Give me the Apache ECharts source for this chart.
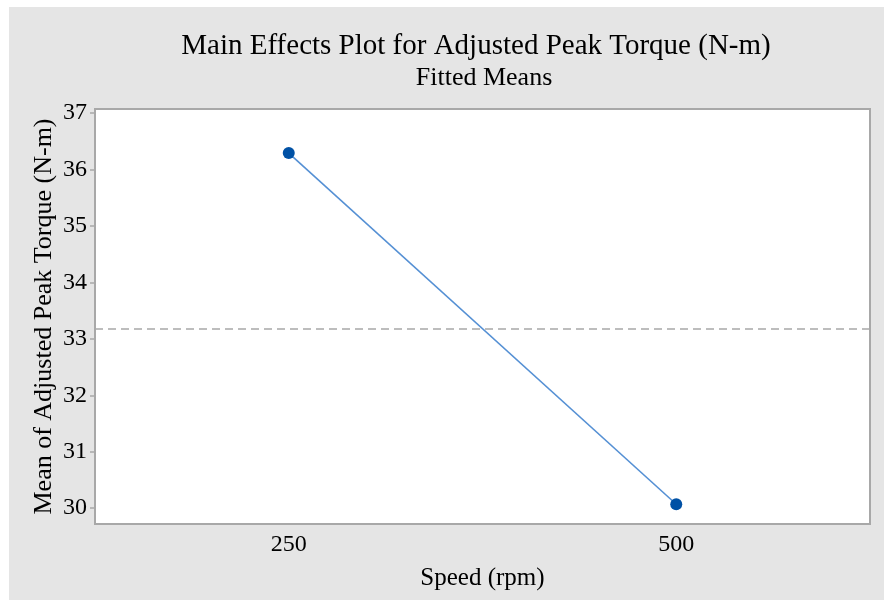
<!DOCTYPE html>
<html>
<head>
<meta charset="utf-8">
<script src="https://cdn.jsdelivr.net/npm/echarts@6/dist/echarts.min.js"></script>
<style>
  html, body { margin: 0; padding: 0; background: #ffffff; }
  #chart { width: 884px; height: 602px; }
</style>
</head>
<body>
<div id="chart"></div>
<script>
// data
var speeds = ["250", "500"];
var fittedMeans = [36.29, 30.07];
var overallMean = 33.18;

var serif = "'Liberation Serif', 'DejaVu Serif', serif";
var chart = echarts.init(document.getElementById("chart"));

var option = {
  backgroundColor: "#ffffff",
  animation: false,
  graphic: [
    {
      type: "rect",
      left: 9,
      top: 7,
      z: -10,
      shape: { width: 875, height: 593 },
      style: { fill: "#e5e5e5" }
    }
  ],
  title: [
    {
      text: "Main Effects Plot for Adjusted Peak Torque (N-m)",
      left: 471,
      top: 27,
      textAlign: "center",
      textStyle: { fontFamily: serif, fontSize: 29, fontWeight: "normal", color: "#000" }
    },
    {
      text: "Fitted Means",
      left: 479,
      top: 60,
      textAlign: "center",
      textStyle: { fontFamily: serif, fontSize: 26, fontWeight: "normal", color: "#000" }
    }
  ],
  grid: {
    left: 95,
    right: 14,
    top: 109,
    bottom: 78,
    show: true,
    backgroundColor: "#ffffff",
    borderColor: "#a8a8a8",
    borderWidth: 2
  },
  xAxis: {
    type: "category",
    data: speeds,
    boundaryGap: true,
    name: "Speed (rpm)",
    nameLocation: "middle",
    nameGap: 42,
    nameMoveOverlap: false,
    nameTextStyle: { fontFamily: serif, fontSize: 25, color: "#000" },
    axisLine: { lineStyle: { color: "#a8a8a8", width: 2 } },
    axisTick: { alignWithLabel: true, length: 6, lineStyle: { color: "#a8a8a8", width: 1.5 } },
    axisLabel: { fontFamily: serif, fontSize: 24, color: "#000", margin: 9 },
    splitLine: { show: false }
  },
  yAxis: {
    type: "value",
    min: 29.72,
    max: 37.07,
    splitNumber: 7,
    name: "Mean of Adjusted Peak Torque (N-m)",
    nameLocation: "middle",
    nameGap: 38,
    nameMoveOverlap: false,
    nameTextStyle: { fontFamily: serif, fontSize: 26, color: "#000" },
    axisLine: { show: true, lineStyle: { color: "#a8a8a8", width: 2 } },
    axisTick: { show: true, length: 5, lineStyle: { color: "#a8a8a8", width: 1.5 } },
    axisLabel: {
      fontFamily: serif,
      fontSize: 24,
      color: "#000",
      margin: 8,
      showMinLabel: false,
      showMaxLabel: false
    },
    splitLine: { show: false }
  },
  series: [
    {
      type: "line",
      data: fittedMeans,
      symbol: "circle",
      symbolSize: 12,
      itemStyle: { color: "#0051a5" },
      lineStyle: { color: "#5590d4", width: 1.6 },
      markLine: {
        silent: true,
        symbol: "none",
        label: { show: false },
        lineStyle: { color: "#a8a8a8", type: [8, 5], width: 1.5 },
        data: [{ yAxis: overallMean }]
      }
    }
  ]
};

chart.setOption(option);
</script>
</body>
</html>
